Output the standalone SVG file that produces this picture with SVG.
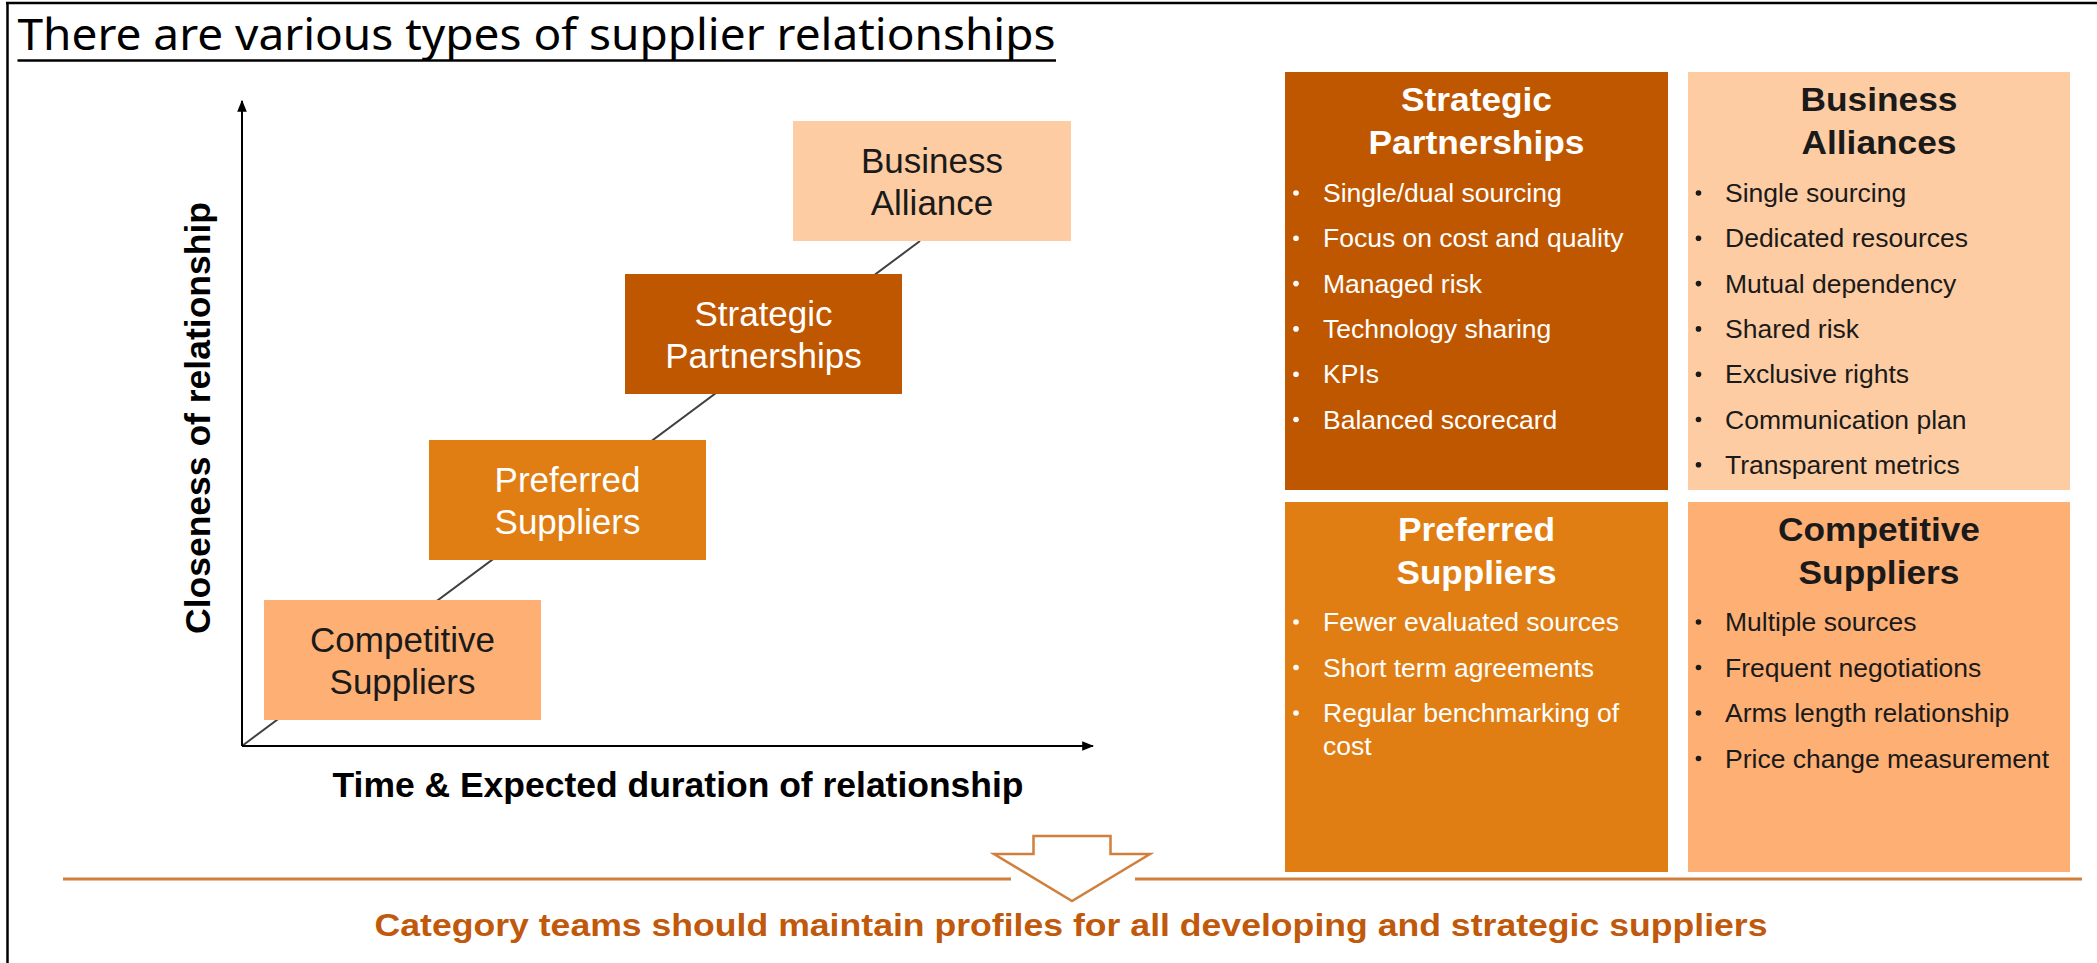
<svg xmlns="http://www.w3.org/2000/svg" width="2097" height="963" viewBox="0 0 2097 963">
<style>
.box{font-family:"Liberation Sans",Arial,sans-serif;font-size:35px;text-anchor:middle}
.ax{font-family:"Liberation Sans",Arial,sans-serif;font-size:35px;font-weight:bold;fill:#000}
.pt{font-family:"Liberation Sans",Arial,sans-serif;font-size:33px;font-weight:bold;text-anchor:middle}
.bl{font-family:"Liberation Sans",Arial,sans-serif;font-size:26.5px}
.w{fill:#ffffff}
.d{fill:#1a1a1a}
</style>
<defs>
<marker id="ah" viewBox="0 0 10 10" refX="9" refY="5" markerWidth="6" markerHeight="6" orient="auto" markerUnits="strokeWidth">
<path d="M0,1 L10,5 L0,9 Z" fill="#000"/>
</marker>
</defs>
<rect x="0" y="0" width="2097" height="963" fill="#ffffff"/>
<g id="frame" stroke="#000" stroke-width="2.5" fill="none">
<line x1="7.5" y1="2" x2="7.5" y2="963"/>
<line x1="6" y1="3" x2="2097" y2="3"/>
</g>
<g id="title">
<text x="17.5" y="50" font-family="'Noto Sans','Open Sans',sans-serif" font-size="44" fill="#000" textLength="1038" lengthAdjust="spacingAndGlyphs">There are various types of supplier relationships</text>
<line x1="17.5" y1="60.5" x2="1056" y2="60.5" stroke="#000" stroke-width="2.5"/>
</g>
<g id="connectors">
<line x1="242" y1="746" x2="920" y2="241" stroke="#404040" stroke-width="2"/>
<line x1="242" y1="746" x2="242" y2="101" stroke="#000" stroke-width="2" marker-end="url(#ah)"/>
<line x1="242" y1="746" x2="1093" y2="746" stroke="#000" stroke-width="2" marker-end="url(#ah)"/>
</g>
<g id="axis-labels">
<text class="ax" transform="translate(209.5,418) rotate(-90)" text-anchor="middle" textLength="432" lengthAdjust="spacingAndGlyphs">Closeness of relationship</text>
<text class="ax" x="678" y="797" text-anchor="middle" textLength="691" lengthAdjust="spacingAndGlyphs">Time &amp; Expected duration of relationship</text>
</g>
<g id="node-competitive">
<rect x="264" y="600" width="277" height="120" fill="#FDAF74"/>
<text class="box d" x="402.5" y="652">Competitive</text>
<text class="box d" x="402.5" y="694">Suppliers</text>
</g>
<g id="node-preferred">
<rect x="429" y="440" width="277" height="120" fill="#E07E14"/>
<text class="box w" x="567.5" y="492">Preferred</text>
<text class="box w" x="567.5" y="534">Suppliers</text>
</g>
<g id="node-strategic">
<rect x="625" y="274" width="277" height="120" fill="#BF5700"/>
<text class="box w" x="763.5" y="326">Strategic</text>
<text class="box w" x="763.5" y="368">Partnerships</text>
</g>
<g id="node-business">
<rect x="793" y="121" width="278" height="120" fill="#FDCCA2"/>
<text class="box d" x="932" y="173">Business</text>
<text class="box d" x="932" y="215">Alliance</text>
</g>
<g id="panel-strategic">
<rect x="1285" y="72" width="383" height="418" fill="#BF5700"/>
<text class="pt w" x="1476.5" y="111" textLength="151" lengthAdjust="spacingAndGlyphs">Strategic</text>
<text class="pt w" x="1476.5" y="154" textLength="216" lengthAdjust="spacingAndGlyphs">Partnerships</text>
<g class="w">
<circle cx="1296" cy="193" r="2.8"/><circle cx="1296" cy="238.3" r="2.8"/><circle cx="1296" cy="283.6" r="2.8"/><circle cx="1296" cy="328.9" r="2.8"/><circle cx="1296" cy="374.2" r="2.8"/><circle cx="1296" cy="419.5" r="2.8"/>
</g>
<text class="bl w" x="1323" y="202">Single/dual sourcing</text>
<text class="bl w" x="1323" y="247.3">Focus on cost and quality</text>
<text class="bl w" x="1323" y="292.6">Managed risk</text>
<text class="bl w" x="1323" y="337.9">Technology sharing</text>
<text class="bl w" x="1323" y="383.2">KPIs</text>
<text class="bl w" x="1323" y="428.5">Balanced scorecard</text>
</g>
<g id="panel-business">
<rect x="1688" y="72" width="382" height="418" fill="#FDCCA2"/>
<text class="pt d" x="1879" y="111" textLength="157" lengthAdjust="spacingAndGlyphs">Business</text>
<text class="pt d" x="1879" y="154" textLength="155" lengthAdjust="spacingAndGlyphs">Alliances</text>
<g class="d">
<circle cx="1698.5" cy="193" r="2.8"/><circle cx="1698.5" cy="238.3" r="2.8"/><circle cx="1698.5" cy="283.6" r="2.8"/><circle cx="1698.5" cy="328.9" r="2.8"/><circle cx="1698.5" cy="374.2" r="2.8"/><circle cx="1698.5" cy="419.5" r="2.8"/><circle cx="1698.5" cy="464.8" r="2.8"/>
</g>
<text class="bl d" x="1725" y="202">Single sourcing</text>
<text class="bl d" x="1725" y="247.3">Dedicated resources</text>
<text class="bl d" x="1725" y="292.6">Mutual dependency</text>
<text class="bl d" x="1725" y="337.9">Shared risk</text>
<text class="bl d" x="1725" y="383.2">Exclusive rights</text>
<text class="bl d" x="1725" y="428.5">Communication plan</text>
<text class="bl d" x="1725" y="473.8">Transparent metrics</text>
</g>
<g id="panel-preferred">
<rect x="1285" y="502" width="383" height="370" fill="#E07E14"/>
<text class="pt w" x="1476.5" y="541" textLength="157" lengthAdjust="spacingAndGlyphs">Preferred</text>
<text class="pt w" x="1476.5" y="584" textLength="160" lengthAdjust="spacingAndGlyphs">Suppliers</text>
<g class="w">
<circle cx="1296" cy="622" r="2.8"/><circle cx="1296" cy="667.5" r="2.8"/><circle cx="1296" cy="713" r="2.8"/>
</g>
<text class="bl w" x="1323" y="631">Fewer evaluated sources</text>
<text class="bl w" x="1323" y="676.5">Short term agreements</text>
<text class="bl w" x="1323" y="722">Regular benchmarking of</text>
<text class="bl w" x="1323" y="755">cost</text>
</g>
<g id="panel-competitive">
<rect x="1688" y="502" width="382" height="370" fill="#FDAF74"/>
<text class="pt d" x="1879" y="541" textLength="202" lengthAdjust="spacingAndGlyphs">Competitive</text>
<text class="pt d" x="1879" y="584" textLength="161" lengthAdjust="spacingAndGlyphs">Suppliers</text>
<g class="d">
<circle cx="1698.5" cy="622" r="2.8"/><circle cx="1698.5" cy="667.5" r="2.8"/><circle cx="1698.5" cy="713" r="2.8"/><circle cx="1698.5" cy="758.5" r="2.8"/>
</g>
<text class="bl d" x="1725" y="631">Multiple sources</text>
<text class="bl d" x="1725" y="676.5">Frequent negotiations</text>
<text class="bl d" x="1725" y="722">Arms length relationship</text>
<text class="bl d" x="1725" y="767.5">Price change measurement</text>
</g>
<g id="conclusion">
<line x1="63" y1="879" x2="1011" y2="879" stroke="#D07F3C" stroke-width="3"/>
<line x1="1135" y1="879" x2="2082" y2="879" stroke="#D07F3C" stroke-width="3"/>
<polygon points="1033.5,836 1110.5,836 1110.5,854 1150,854 1072,901 994,854 1033.5,854" fill="#ffffff" stroke="#D07F3C" stroke-width="2.5" stroke-linejoin="miter"/>
<text x="374.5" y="936" font-family="'Liberation Sans',Arial,sans-serif" font-size="32" font-weight="bold" fill="#C0590C" textLength="1393" lengthAdjust="spacingAndGlyphs">Category teams should maintain profiles for all developing and strategic suppliers</text>
</g>
</svg>
